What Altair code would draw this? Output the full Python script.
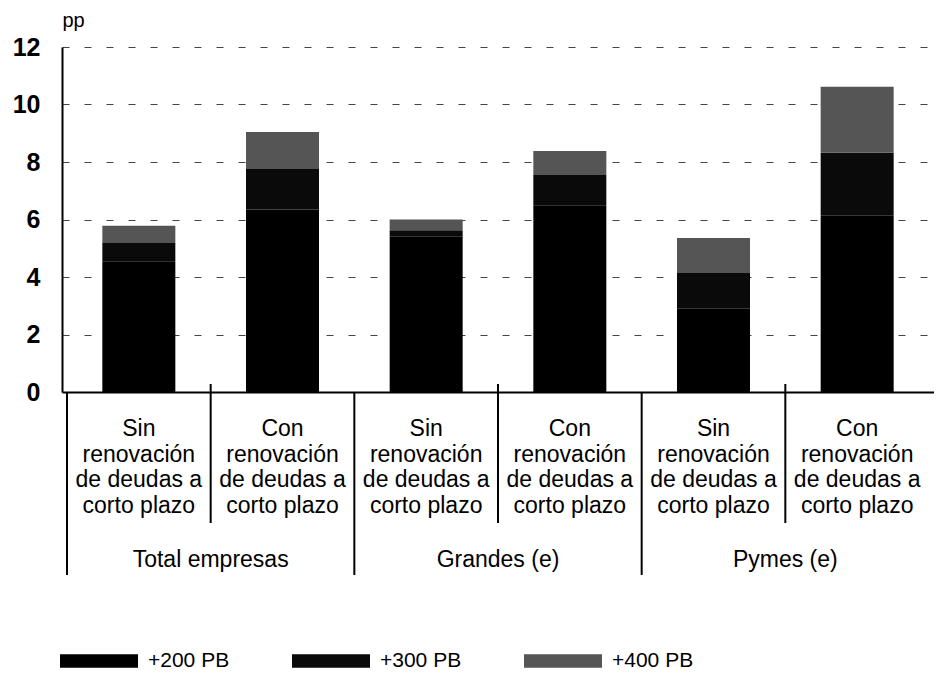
import altair as alt
import pandas as pd

# ---- data ----
categorias = [
    "Sin\nrenovación\nde deudas a\ncorto plazo",
    "Con\nrenovación\nde deudas a\ncorto plazo",
    "Sin\nrenovación\nde deudas a\ncorto plazo",
    "Con\nrenovación\nde deudas a\ncorto plazo",
    "Sin\nrenovación\nde deudas a\ncorto plazo",
    "Con\nrenovación\nde deudas a\ncorto plazo",
]
grupos = ["Total empresas", "Grandes (e)", "Pymes (e)"]
series = ["+200 PB", "+300 PB", "+400 PB"]
s200 = [4.55, 6.35, 5.40, 6.50, 2.90, 6.13]
s300 = [0.63, 1.41, 0.23, 1.05, 1.24, 2.19]
s400 = [0.60, 1.28, 0.37, 0.83, 1.22, 2.30]
colores = ["#000000", "#0a0a0a", "#555555"]
y_ticks = [0, 2, 4, 6, 8, 10, 12]

W, H = 872, 345
FONT = "Liberation Sans"

rows = []
for i in range(len(categorias)):
    for k, (s, vals) in enumerate(zip(series, [s200, s300, s400])):
        rows.append({"pos": i + 0.5, "serie": s, "orden": k, "valor": vals[i]})
df = pd.DataFrame(rows)

sub_df = pd.DataFrame({"pos": [i + 0.5 for i in range(len(categorias))], "etiqueta": categorias})
grp_df = pd.DataFrame({"pos": [1, 3, 5], "grupo": grupos})
short_df = pd.DataFrame({"pos": [1, 3, 5]})
long_df = pd.DataFrame({"pos": [0, 2, 4]})

x_scale = alt.Scale(domain=[0, 6], nice=False, zero=False)
y_scale = alt.Scale(domain=[0, 12], nice=False)

bars = alt.Chart(df).transform_stack(
    stack="valor", as_=["y0", "y1"], groupby=["pos"],
    sort=[alt.SortField("orden", order="ascending")]
).mark_bar(size=73).encode(
    x=alt.X("pos:Q", scale=x_scale, title=None,
            axis=alt.Axis(labels=False, ticks=False, grid=False, domain=True,
                          domainColor="black", domainWidth=2, zindex=1)),
    y=alt.Y("y0:Q", scale=y_scale,
            axis=alt.Axis(values=y_ticks, title="pp", titleAngle=0, titleAlign="left",
                          titleBaseline="middle", titleX=0, titleY=-27,
                          titleFont=FONT, titleFontSize=20, titleFontWeight="normal",
                          titleColor="black",
                          labelFont=FONT, labelFontSize=25, labelFontWeight="bold",
                          labelColor="black", labelPadding=22, ticks=False,
                          grid=True, gridDash=[7, 15], gridColor="#444444", gridWidth=1,
                          domainColor="black", domainWidth=2)),
    y2="y1:Q",
    color=alt.Color("serie:N", scale=alt.Scale(domain=series, range=colores),
                    legend=alt.Legend(title=None, orient="none", legendX=-2, legendY=575,
                                      direction="horizontal", columns=3,
                                      symbolType="M-1,-0.17L1,-0.17L1,0.17L-1,0.17Z",
                                      symbolSize=6084, symbolStrokeWidth=0,
                                      symbolOpacity=1,
                                      labelFont=FONT, labelFontSize=21,
                                      labelColor="black", labelOffset=10,
                                      columnPadding=62)),
    order=alt.Order("orden:Q"),
)

rules_short = alt.Chart(short_df).mark_rule(color="black", strokeWidth=2).encode(
    x=alt.X("pos:Q", scale=x_scale, title=None),
    y=alt.value(H - 8),
    y2=alt.value(H + 131),
)
rules_long = alt.Chart(long_df).mark_rule(color="black", strokeWidth=2).encode(
    x=alt.X("pos:Q", scale=x_scale, title=None),
    y=alt.value(H),
    y2=alt.value(H + 183),
)

sub_text = alt.Chart(sub_df).mark_text(
    lineBreak="\n", font=FONT, fontSize=23, baseline="top", align="center",
    lineHeight=25.5, color="black"
).encode(
    x=alt.X("pos:Q", scale=x_scale, title=None),
    y=alt.value(H + 26),
    text="etiqueta:N",
)

grp_text = alt.Chart(grp_df).mark_text(
    font=FONT, fontSize=23, baseline="middle", align="center", color="black"
).encode(
    x=alt.X("pos:Q", scale=x_scale, title=None),
    y=alt.value(H + 168),
    text="grupo:N",
)

chart = alt.layer(bars, rules_short, rules_long, sub_text, grp_text).properties(
    width=W, height=H,
    autosize=alt.AutoSizeParams(type="none"),
    padding={"left": 54, "top": 39, "right": 0, "bottom": 281},
).configure_view(stroke=None)

chart.save("out.html", embed_options={"renderer": "svg", "actions": False})
